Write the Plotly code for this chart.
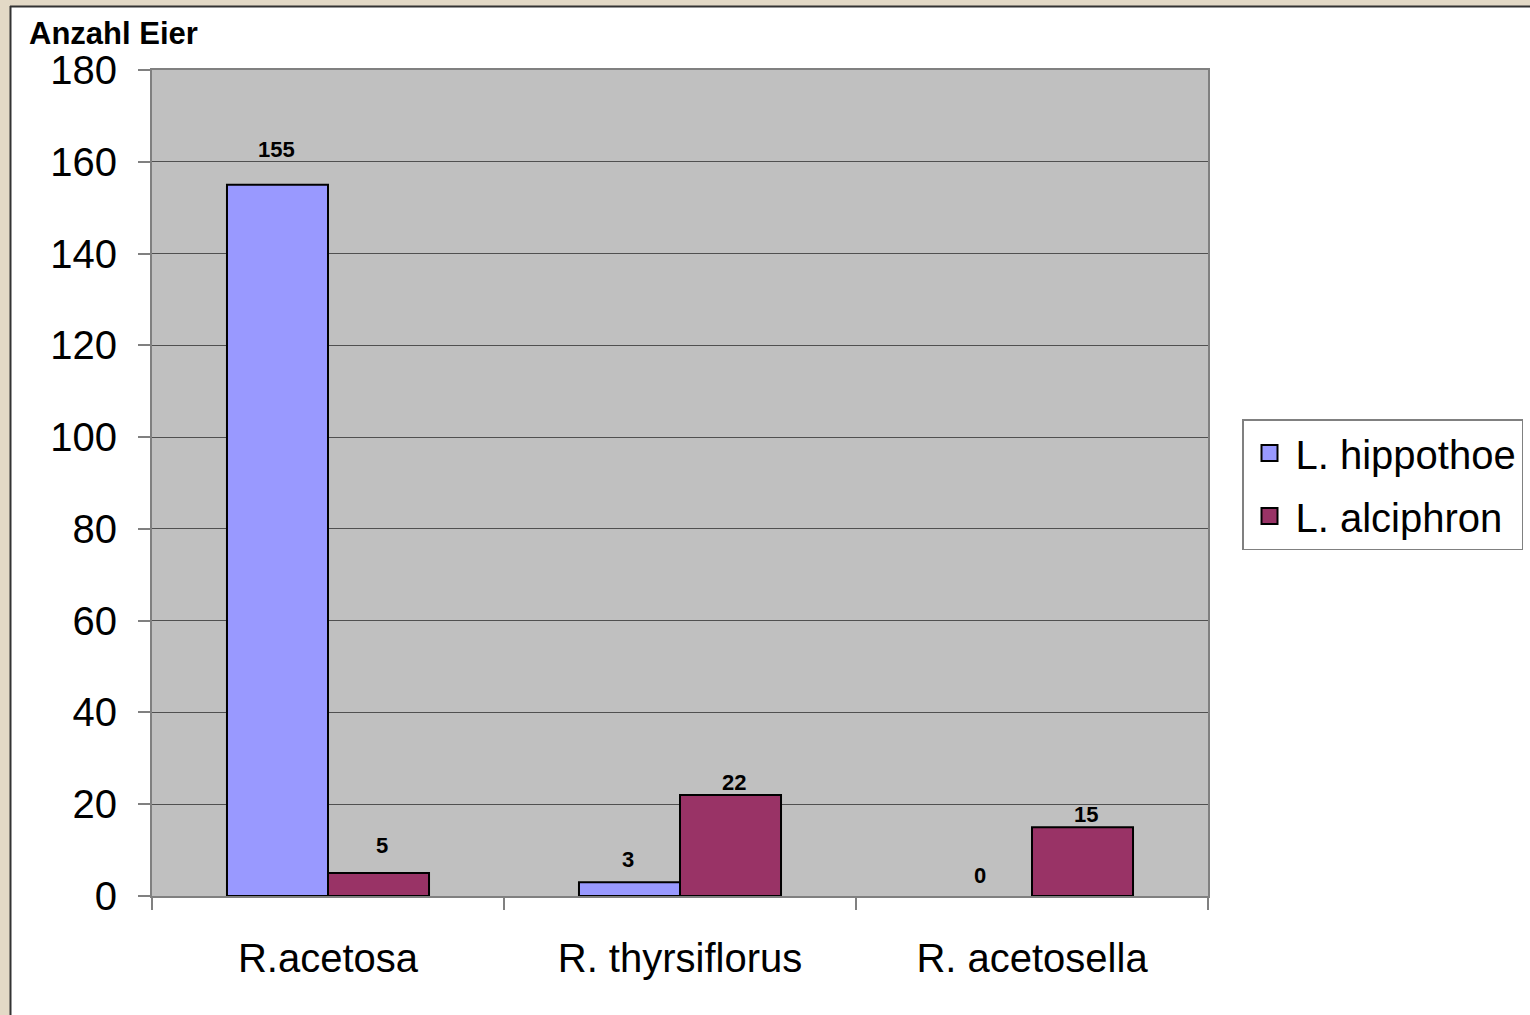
import plotly.graph_objects as go

categories = ["R.acetosa", "R. thyrsiflorus", "R. acetosella"]
hippothoe = [155, 3, 0]
alciphron = [5, 22, 15]
series_names = ["L. hippothoe", "L. alciphron"]
series_colors = ["#9999ff", "#993366"]
y_ticks = [0, 20, 40, 60, 80, 100, 120, 140, 160, 180]

# label pixel offsets above bar tops (style only)
label_yshift = [[35, 23, 21], [28, 13, 13]]
label_xshift = [-52, 54]

W, H = 1530, 1015
L, R, T, B = 152, 322, 70, 119
PW, PH = W - L - R, H - T - B

def px_x(x):
    return (x - L) / PW

def px_y(y):
    return (H - B - y) / PH

FONT = "Liberation Sans, Arial, sans-serif"

fig = go.Figure()
series = [hippothoe, alciphron]
for i, (vals, name, col) in enumerate(zip(series, series_names, series_colors)):
    fig.add_trace(go.Bar(
        x=categories, y=vals, name=name,
        marker=dict(color=col, line=dict(color="black", width=[2 if v else 0 for v in vals])),
        showlegend=False, cliponaxis=False,
    ))
# legend-only entries with bigger swatches
for i, (name, col) in enumerate(zip(series_names, series_colors)):
    fig.add_trace(go.Scatter(
        x=[None], y=[None], name=name, mode="markers",
        marker=dict(symbol="square", size=16, color=col, line=dict(color="black", width=2)),
        legendgroup=f"g{i}", showlegend=True,
    ))

annotations = [dict(
    text="<b>Anzahl Eier</b>", xref="paper", yref="paper",
    x=px_x(27), y=px_y(34), xanchor="left", yanchor="middle",
    showarrow=False, font=dict(family=FONT, size=31, color="black"),
)]
for i, vals in enumerate(series):
    for j, (c, v) in enumerate(zip(categories, vals)):
        annotations.append(dict(
            text=f"<b>{v}</b>", x=c, y=v, xref="x", yref="y",
            xshift=label_xshift[i], yshift=label_yshift[i][j],
            xanchor="center", yanchor="middle",
            showarrow=False, font=dict(family=FONT, size=22, color="black"),
        ))

shapes = [
    dict(type="rect", xref="paper", yref="paper",
         x0=px_x(0), x1=px_x(10), y0=px_y(H), y1=px_y(0),
         fillcolor="#e3d9c6", line=dict(width=0), layer="above"),
    dict(type="rect", xref="paper", yref="paper",
         x0=px_x(0), x1=px_x(W), y0=px_y(6), y1=px_y(0),
         fillcolor="#e3d9c6", line=dict(width=0), layer="above"),
    dict(type="line", xref="paper", yref="paper",
         x0=px_x(10.5), x1=px_x(10.5), y0=px_y(H), y1=px_y(6),
         line=dict(color="#333333", width=2), layer="above"),
    dict(type="line", xref="paper", yref="paper",
         x0=px_x(10), x1=px_x(W), y0=px_y(6.5), y1=px_y(6.5),
         line=dict(color="#333333", width=2), layer="above"),
]

fig.update_layout(
    width=W, height=H,
    margin=dict(l=L, r=R, t=T, b=B, autoexpand=False),
    paper_bgcolor="white", plot_bgcolor="#c0c0c0",
    barmode="group", bargap=0.426, bargroupgap=0,
    font=dict(family=FONT, color="black"),
    shapes=shapes,
    annotations=annotations,
    showlegend=True,
    legend=dict(
        x=px_x(1242), y=px_y(419), xanchor="left", yanchor="top",
        bgcolor="white", bordercolor="#808080", borderwidth=1.5,
        font=dict(family=FONT, size=40, color="black"),
        itemsizing="trace", tracegroupgap=8, itemwidth=42,
    ),
    xaxis=dict(
        showline=True, linecolor="#808080", linewidth=2, mirror=True,
        ticks="outside", tickson="boundaries", ticklen=12, tickcolor="#808080", tickwidth=1.5,
        tickfont=dict(family=FONT, size=40, color="black"),
        showgrid=False, ticklabelstandoff=26,
    ),
    yaxis=dict(
        range=[0, 180], tickvals=y_ticks,
        showline=True, linecolor="#808080", linewidth=2, mirror=True,
        ticks="outside", ticklen=12, tickcolor="#808080", tickwidth=1.5,
        tickfont=dict(family=FONT, size=40, color="black"),
        showgrid=True, gridcolor="#505050", gridwidth=1,
        zeroline=False,
        ticklabelstandoff=13,
    ),
)

fig.write_html("out.html", config={"displayModeBar": False},
               post_script="document.body.style.margin='0';")
